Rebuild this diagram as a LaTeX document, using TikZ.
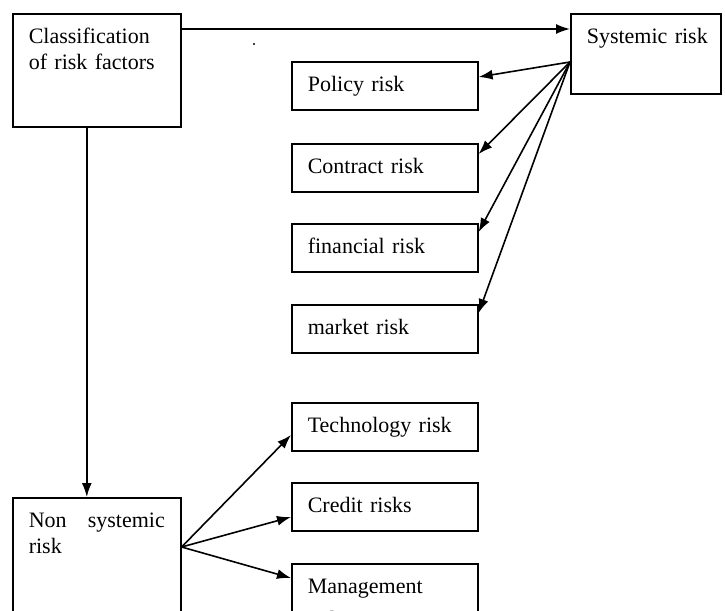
\documentclass[tikz,border=0pt]{standalone}
\usepackage{fontspec}
\setmainfont{Liberation Serif}
\usetikzlibrary{arrows.meta}

\begin{document}
\begin{tikzpicture}[x=0.5pt,y=-0.5pt,>={Latex[length=7pt,width=5pt]},font=\fontsize{11}{13}\selectfont]
% Styles
\tikzstyle{connector}=[->,line width=0.8pt]
\tikzstyle{risk box}=[draw,line width=0.8pt,anchor=north west,align=left,inner xsep=8pt,inner ysep=0pt,text width=77pt,text height=14.75pt,text depth=9.25pt]
\tikzstyle{main box}=[risk box,text width=68pt,text depth=41.75pt]
% Frame
\useasboundingbox (0,0) rectangle (725,611);
\clip (0,0) rectangle (725,611);
% The boxes
\node[main box] (class) at (12,13) {Classification\\of risk factors};
\node[risk box,text width=59pt,text depth=25.25pt] (sys) at (570,13) {\mbox{Systemic risk}};
\node[main box,text depth=50pt] (nonsys) at (12,497) {Non\hfill systemic\\risk};
\node[risk box] (policy) at (291,61) {Policy risk};
\node[risk box] (contract) at (291,143) {Contract risk};
\node[risk box] (financial) at (291,223) {financial risk};
\node[risk box] (market) at (291,304) {market risk};
\node[risk box] (tech) at (291,402) {Technology risk};
\node[risk box] (credit) at (291,482) {Credit risks};
\node[risk box,text depth=20pt] (mgmt) at (291,563) {Management\\[3.5pt]risk};
\fill (254,44) circle (0.6pt);
% The connectors
\coordinate (sysfan) at ([shift={(0,49)}]sys.north west);
\coordinate (nonsysfan) at ([shift={(0,50)}]nonsys.north east);
\draw[connector] ([shift={(0,16)}]class.north east) -- ([shift={(0,16)}]sys.north west);
\draw[connector] ([shift={(-10,0)}]class.south) -- ([shift={(-10,0)}]nonsys.north);
\foreach \target/\drop in {policy/16,contract/11,financial/9,market/9}
  \draw[connector] (sysfan) -- ([shift={(0,\drop)}]\target.north east);
\foreach \target/\drop in {tech/33,credit/35,mgmt/15}
  \draw[connector] (nonsysfan) -- ([shift={(0,\drop)}]\target.north west);
\end{tikzpicture}
\end{document}
